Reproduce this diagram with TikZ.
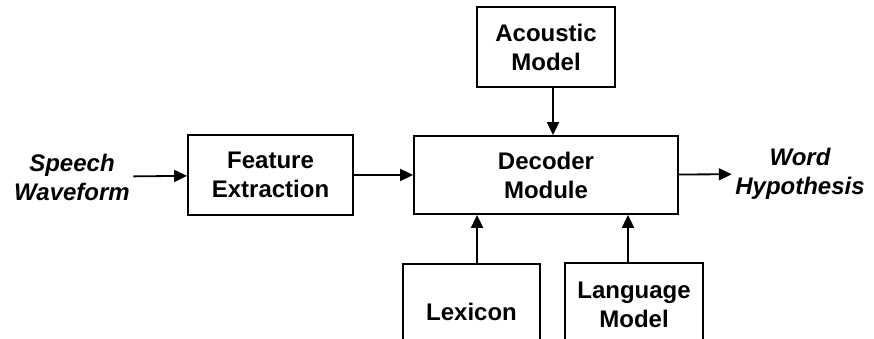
\documentclass[tikz,border=0pt]{standalone}
\usepackage{fontspec}
\setmainfont{Liberation Sans}
\usetikzlibrary{arrows.meta}

\begin{document}
\begin{tikzpicture}[x=1pt,y=1pt,
  every node/.style={font=\fontsize{24}{29}\selectfont\bfseries,align=center},
  block/.style={draw,line width=1.8pt,inner sep=0pt},
  arr/.style={-{Triangle[length=13pt,width=12pt]},line width=1.8pt}]
% page frame; the two lower boxes run off the bottom edge
\fill[white] (0,0) rectangle (874,339);
\clip (0,0) rectangle (874,339);

\node[font=\fontsize{24}{29}\selectfont\bfseries\itshape] (speech) at (72,162) {Speech\\Waveform};
\node[block,minimum width=165pt,minimum height=80pt] (feat) at (270.5,164) {Feature\\Extraction};
\node[block,minimum width=264pt,minimum height=78pt] (dec) at (546,164) {Decoder\\Module};
\node[block,minimum width=138pt,minimum height=80pt] (acou) at (546,292) {Acoustic\\Model};
\node[block,minimum width=137pt,minimum height=96pt] (lex) at (471.5,27) {Lexicon};
\node[block,minimum width=138pt,minimum height=84pt] (lang) at (634,34) {Language\\Model};
\node[font=\fontsize{24}{29}\selectfont\bfseries\itshape] (word) at (800,165) {Word\\Hypothesis};

\draw[arr] (speech) -- (feat);
\draw[arr] (feat) -- (dec);
\draw[arr] ([xshift=7pt]acou.south) -- ([xshift=7pt]acou.south |- dec.north);
\draw[arr] ([xshift=5.5pt]lex.north) -- ([xshift=5.5pt]lex.north |- dec.south);
\draw[arr] ([xshift=-6pt]lang.north) -- ([xshift=-6pt]lang.north |- dec.south);
\draw[arr] (dec) -- (word);
\end{tikzpicture}
\end{document}
